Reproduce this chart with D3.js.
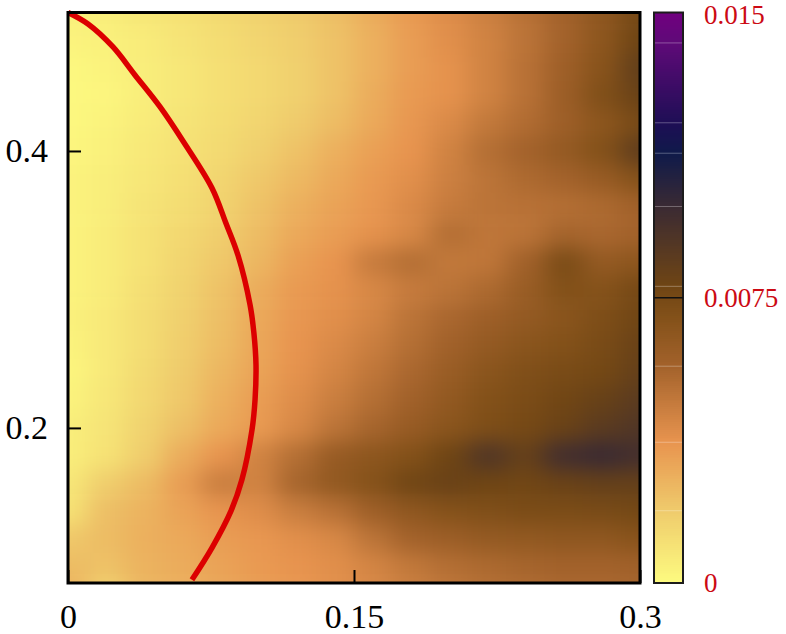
<!DOCTYPE html>
<html>
<head>
<meta charset="utf-8">
<script src="https://cdn.jsdelivr.net/npm/d3@7"></script>
<style>
  html, body { margin: 0; padding: 0; background: #fff; }
  text { font-family: "Liberation Serif", serif; }
</style>
</head>
<body>
<svg id="chart" width="786" height="634"></svg>
<script>
// grid positions of the map
const xValues = [0, 0.02, 0.04, 0.06, 0.08, 0.1, 0.12, 0.14, 0.16, 0.18, 0.2, 0.22, 0.24, 0.26, 0.28, 0.3];
const yValues = [0.5, 0.48, 0.46, 0.44, 0.42, 0.4, 0.38, 0.36, 0.34, 0.32, 0.3, 0.28, 0.26, 0.24, 0.22, 0.2, 0.18, 0.16, 0.14, 0.12, 0.1, 0.08];

// map values, in units of 1e-3, one row per yValues entry
const mapRows = [
  [0.4, 0.5, 0.8, 1.0, 1.3, 1.6, 1.9, 2.3, 2.9, 3.5, 4.0, 4.5, 5.1, 5.7, 6.5, 7.5],
  [0.3, 0.4, 0.6, 0.9, 1.2, 1.5, 1.8, 2.2, 2.8, 3.4, 3.9, 4.4, 5.0, 5.7, 6.6, 7.8],
  [0.1, 0.3, 0.5, 0.8, 1.1, 1.4, 1.7, 2.2, 2.8, 3.4, 3.8, 4.4, 5.1, 5.9, 6.8, 8.3],
  [0.1, 0.2, 0.5, 0.8, 1.1, 1.4, 1.7, 2.2, 2.9, 3.5, 3.8, 4.4, 5.1, 6.0, 7.1, 8.0],
  [0.1, 0.3, 0.6, 0.9, 1.2, 1.5, 1.9, 2.4, 3.0, 3.6, 4.1, 4.8, 5.3, 5.9, 6.6, 7.4],
  [0.2, 0.4, 0.7, 1.0, 1.3, 1.7, 2.2, 2.8, 3.3, 3.7, 4.4, 5.2, 5.7, 6.3, 7.0, 8.4],
  [0.3, 0.5, 0.8, 1.1, 1.5, 2.0, 2.5, 3.0, 3.5, 3.9, 4.5, 5.0, 5.4, 5.7, 6.2, 6.9],
  [0.3, 0.5, 0.9, 1.2, 1.6, 2.2, 2.8, 3.2, 3.6, 4.1, 4.7, 5.0, 5.1, 5.2, 5.4, 5.8],
  [0.3, 0.6, 1.0, 1.4, 1.8, 2.4, 3.0, 3.4, 3.8, 4.2, 5.2, 4.9, 5.0, 5.6, 5.5, 5.7],
  [0.3, 0.6, 1.0, 1.5, 2.0, 2.6, 3.3, 3.7, 4.7, 5.2, 4.8, 4.9, 5.8, 7.3, 6.3, 6.6],
  [0.3, 0.6, 1.1, 1.6, 2.2, 2.9, 3.5, 3.8, 4.2, 4.7, 5.0, 5.4, 6.1, 7.0, 6.9, 7.5],
  [0.4, 0.7, 1.2, 1.7, 2.3, 3.0, 3.6, 3.9, 4.3, 5.0, 5.5, 5.9, 6.3, 6.7, 7.2, 7.7],
  [0.3, 0.7, 1.2, 1.8, 2.4, 3.1, 3.7, 4.1, 4.6, 5.2, 5.8, 6.3, 6.7, 7.0, 7.4, 8.0],
  [0.2, 0.7, 1.3, 1.9, 2.6, 3.2, 3.8, 4.3, 4.9, 5.5, 6.1, 6.7, 7.1, 7.4, 7.6, 8.2],
  [0.3, 0.8, 1.4, 2.0, 2.8, 3.4, 4.0, 4.6, 5.2, 5.8, 6.4, 7.0, 7.3, 7.7, 8.1, 8.6],
  [0.5, 0.9, 1.6, 2.3, 3.0, 3.5, 4.2, 5.0, 5.6, 6.2, 6.7, 7.2, 7.5, 8.0, 8.6, 9.0],
  [0.5, 1.0, 1.8, 2.9, 3.7, 4.4, 5.2, 6.2, 6.6, 7.0, 7.8, 9.0, 8.2, 9.6, 9.9, 9.5],
  [0.8, 1.8, 2.4, 3.4, 4.6, 4.4, 5.6, 6.4, 6.9, 7.7, 8.0, 7.8, 7.7, 8.0, 8.2, 8.2],
  [1.0, 2.3, 2.7, 3.2, 3.7, 4.0, 4.6, 5.1, 5.9, 6.5, 6.9, 7.1, 7.3, 7.3, 7.4, 7.6],
  [2.0, 2.4, 2.8, 3.0, 3.4, 3.6, 3.9, 4.2, 5.0, 5.7, 6.0, 6.3, 6.4, 6.5, 6.5, 6.8],
  [2.4, 2.2, 2.7, 2.9, 3.2, 3.5, 3.7, 3.9, 4.3, 4.8, 5.2, 5.4, 5.6, 5.7, 5.7, 5.8],
  [2.8, 1.6, 2.6, 2.8, 3.1, 3.4, 3.6, 3.9, 4.2, 4.6, 4.9, 5.2, 5.3, 5.5, 5.5, 5.6],
];

// red curve
const curveX = [0, 0.0105, 0.0236, 0.0351, 0.0483, 0.0603, 0.0755, 0.0828, 0.0892, 0.0955, 0.0975, 0.0986, 0.0981, 0.0965, 0.0912, 0.0855, 0.0755, 0.065];
const curveY = [0.5, 0.4917, 0.4751, 0.4549, 0.4318, 0.4072, 0.3733, 0.3480, 0.3245, 0.2888, 0.2686, 0.2455, 0.2203, 0.1986, 0.1625, 0.1401, 0.1134, 0.0903];

// colour bar
const colorStops = [0, 0.0019, 0.0037, 0.0057, 0.0069, 0.0078, 0.0099, 0.0113, 0.0121, 0.0142, 0.015];
const colorValues = ['#fdfb80', '#efcb6c', '#e8944f', '#a3622b', '#85521a', '#6f4514', '#3a2a33', '#0f1a4a', '#1e0e55', '#5f0a78', '#70007f'];
const contourLevels = [0.0019, 0.0037, 0.0057, 0.0078, 0.0099, 0.0113, 0.0121, 0.0142];

const xTicks = [0, 0.15, 0.3];
const yTicks = [0.2, 0.4];
const barTicks = [0, 0.0075, 0.015];

const margin = { top: 12.5, left: 68 };
const plotW = 572;
const plotH = 570.5;
const barX = 654;
const barW = 29;

const svg = d3.select('#chart');

const x = d3.scaleLinear().domain([0, 0.3]).range([margin.left, margin.left + plotW]);
const y = d3.scaleLinear().domain([0.088, 0.5]).range([margin.top + plotH, margin.top]);
const barY = d3.scaleLinear().domain([0, 0.015]).range([margin.top + plotH, margin.top]);
const color = d3.scaleLinear().domain(colorStops).range(colorValues).clamp(true);

const defs = svg.append('defs');
defs.append('clipPath').attr('id', 'plot-clip')
  .append('rect')
  .attr('x', margin.left).attr('y', margin.top)
  .attr('width', plotW).attr('height', plotH);

const blur = defs.append('filter').attr('id', 'smooth')
  .attr('filterUnits', 'userSpaceOnUse')
  .attr('x', 0).attr('y', -60).attr('width', 786).attr('height', 760)
  .attr('color-interpolation-filters', 'sRGB');
blur.append('feGaussianBlur').attr('stdDeviation', '12 10');

// map cells, extended past the frame so the blur does not fade at the edges
const cellW = x(xValues[1]) - x(xValues[0]);
const cellH = y(yValues[1]) - y(yValues[0]);
const cells = [];
yValues.forEach((yv, i) => xValues.forEach((xv, j) => {
  cells.push({ xv, yv, value: mapRows[i][j] / 1000, first: j === 0, last: j === xValues.length - 1, top: i === 0 });
}));

const pad = 50;
svg.append('g').attr('clip-path', 'url(#plot-clip)')
  .append('g').attr('filter', 'url(#smooth)')
  .selectAll('rect')
  .data(cells)
  .enter().append('rect')
  .attr('x', (d) => x(d.xv) - cellW / 2 - (d.first ? pad : 0))
  .attr('y', (d) => y(d.yv) - cellH / 2 - (d.top ? pad : 0))
  .attr('width', (d) => cellW + 0.5 + (d.first || d.last ? pad : 0))
  .attr('height', (d) => cellH + 0.5 + (d.top ? pad : 0))
  .attr('fill', (d) => color(d.value));

// curve
const line = d3.line().x((d, i) => x(curveX[i])).y((d, i) => y(curveY[i])).curve(d3.curveCatmullRom.alpha(0.5));
svg.append('path')
  .datum(curveX)
  .attr('d', line)
  .attr('fill', 'none')
  .attr('stroke', '#dc0000')
  .attr('stroke-width', 5.5)
  .attr('stroke-linejoin', 'round');

// frame
svg.append('rect')
  .attr('x', margin.left).attr('y', margin.top)
  .attr('width', plotW).attr('height', plotH)
  .attr('fill', 'none')
  .attr('stroke', '#000')
  .attr('stroke-width', 3);

const xAxis = svg.append('g')
  .attr('transform', `translate(0,${margin.top + plotH})`)
  .call(d3.axisBottom(x).tickValues(xTicks).tickFormat((d) => `${d}`).tickSizeInner(-13).tickSizeOuter(0).tickPadding(21));
const yAxis = svg.append('g')
  .attr('transform', `translate(${margin.left},0)`)
  .call(d3.axisLeft(y).tickValues(yTicks).tickFormat((d) => `${d}`).tickSizeInner(-13).tickSizeOuter(0).tickPadding(20));

[xAxis, yAxis].forEach((axis) => {
  axis.select('.domain').remove();
  axis.selectAll('line').attr('stroke', '#000').attr('stroke-width', 2);
  axis.selectAll('text').attr('font-size', 34).attr('fill', '#000').style('font-family', '"Liberation Serif", serif');
});

// colour bar
const barStep = 0.00005;
const barSteps = d3.range(0, 300).map((i) => i * barStep);
svg.append('g').attr('shape-rendering', 'crispEdges').selectAll('rect')
  .data(barSteps)
  .enter().append('rect')
  .attr('x', barX)
  .attr('y', (d) => barY(d + barStep))
  .attr('width', barW)
  .attr('height', (d) => barY(d) - barY(d + barStep) + 1)
  .attr('fill', (d) => color(d));

svg.append('g').selectAll('line')
  .data(contourLevels)
  .enter().append('line')
  .attr('x1', barX + 1).attr('x2', barX + barW - 1)
  .attr('y1', (d) => barY(d)).attr('y2', (d) => barY(d))
  .attr('stroke', '#fff')
  .attr('stroke-opacity', 0.3);

svg.append('rect')
  .attr('x', barX).attr('y', margin.top)
  .attr('width', barW).attr('height', plotH)
  .attr('fill', 'none')
  .attr('stroke', '#1c1c1c')
  .attr('stroke-width', 2);

const barAxis = svg.append('g')
  .attr('transform', `translate(${barX + barW},0)`)
  .call(d3.axisRight(barY).tickValues(barTicks).tickFormat((d) => `${d}`).tickSize(0).tickPadding(21));
barAxis.select('.domain').remove();
barAxis.selectAll('text').attr('font-size', 27).attr('fill', '#cc0a14').style('font-family', '"Liberation Serif", serif');
// keep the top label inside the page
barAxis.selectAll('text').filter((d) => d === 0.015).attr('dy', '0.4em');

svg.append('line')
  .attr('x1', barX).attr('x2', barX + barW)
  .attr('y1', barY(barTicks[1])).attr('y2', barY(barTicks[1]))
  .attr('stroke', '#111')
  .attr('stroke-width', 1.5);
</script>
</body>
</html>
